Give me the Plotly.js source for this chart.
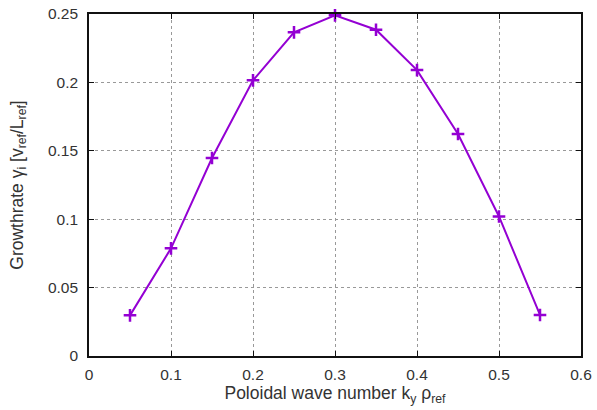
<!DOCTYPE html>
<html>
<head>
<meta charset="utf-8">
<script src="https://cdn.plot.ly/plotly-3.0.1.min.js"></script>
<style>html,body{margin:0;padding:0;background:#fff;}#chart{width:597px;height:410px;}</style>
</head>
<body>
<div id="chart"></div>
<script>
const ky = [0.05, 0.10, 0.15, 0.20, 0.25, 0.30, 0.35, 0.40, 0.45, 0.50, 0.55];
const growthrate = [0.0297, 0.0787, 0.1447, 0.2015, 0.2366, 0.2490, 0.2385, 0.2090, 0.1623, 0.1020, 0.0300];
const xTicks = [0, 0.1, 0.2, 0.3, 0.4, 0.5, 0.6];
const yTicks = [0, 0.05, 0.1, 0.15, 0.2, 0.25];

const tickFont = {family: 'Liberation Sans, Arial, sans-serif', size: 15.5, color: '#333'};
const titleFont = {family: 'Liberation Sans, Arial, sans-serif', size: 17.5, color: '#333'};
const trace = {
  x: ky, y: growthrate, mode: 'lines+markers', type: 'scatter',
  line: {color: '#9400D3', width: 2},
  marker: {symbol: 'cross-thin-open', size: 9, line: {color: '#9400D3', width: 2.5}, color: '#9400D3'},
  showlegend: false, cliponaxis: false
};
const axisCommon = {
  showline: true, mirror: 'ticks', linecolor: '#111', linewidth: 1.8,
  ticks: 'inside', ticklen: 5, tickcolor: '#111',
  showgrid: true, gridcolor: '#999', griddash: 'dot', gridwidth: 1,
  zeroline: false, tickfont: tickFont
};
const layout = {
  width: 597, height: 410,
  margin: {l: 89, r: 16, t: 14, b: 54},
  paper_bgcolor: '#fff', plot_bgcolor: '#fff',
  font: tickFont,
  xaxis: Object.assign({}, axisCommon, {
    range: [0, 0.6], tickvals: xTicks, ticktext: xTicks.map(String), ticklabelstandoff: 4,
    title: {text: 'Poloidal wave number k<sub>y</sub> ρ<sub>ref</sub>', font: titleFont, standoff: 4}
  }),
  yaxis: Object.assign({}, axisCommon, {
    range: [0, 0.25], tickvals: yTicks, ticktext: yTicks.map(String), ticklabelstandoff: 6,
    title: {text: 'Growthrate γ<sub>i</sub> [v<sub>ref</sub>/L<sub>ref</sub>]', font: titleFont, standoff: 20}
  })
};
Plotly.newPlot('chart', [trace], layout, {displayModeBar: false, staticPlot: true});
</script>
</body>
</html>
